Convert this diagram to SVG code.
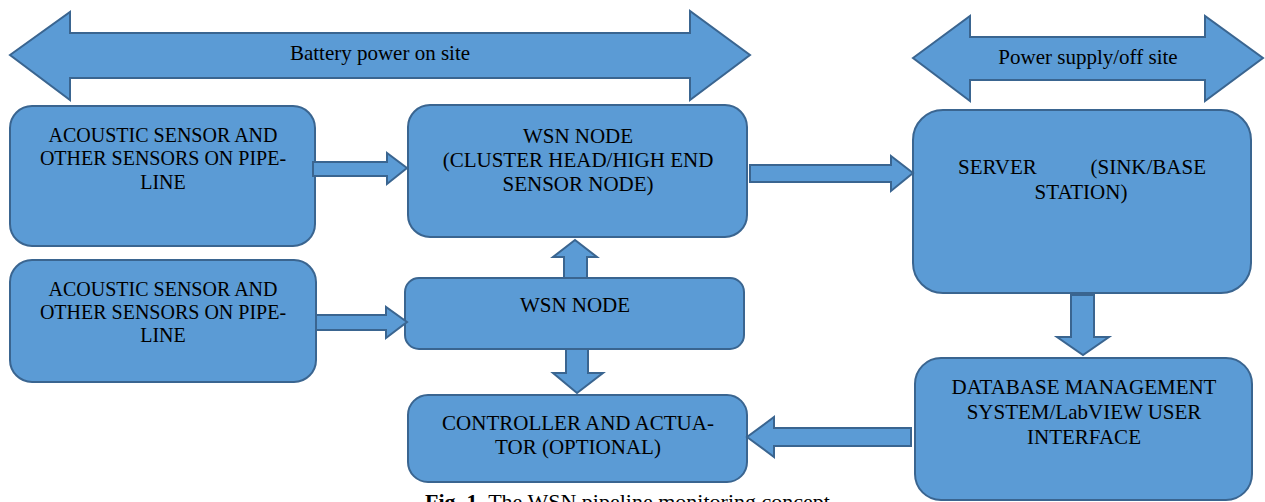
<svg xmlns="http://www.w3.org/2000/svg" width="1265" height="502" viewBox="0 0 1265 502">
<style>
.shape{fill:#5B9BD5;stroke:#3A6590;stroke-width:2;stroke-linejoin:miter}
.t{font-family:"Liberation Serif","Times New Roman",serif;font-size:21px;fill:#000;text-anchor:middle}
.s{font-size:20px}
.st{text-anchor:start}
.en{text-anchor:end}
.lbl{font-family:"Liberation Serif","Times New Roman",serif;font-size:21px;fill:#000;text-anchor:middle}
.cap{font-family:"Liberation Serif","Times New Roman",serif;font-size:22px;fill:#000}
</style>
<rect width="1265" height="502" fill="#fff"/>
<g id="battery-power">
<polygon class="shape" points="10,55 70,12 70,33 690,33 690,11 750,55 690,100 690,78 70,78 70,100"/>
<text class="lbl" x="380" y="60">Battery power on site</text>
</g>
<g id="power-supply">
<polygon class="shape" points="913,58 970,16 970,37 1205,37 1205,16 1263,58 1205,101 1205,80 970,80 970,101"/>
<text class="lbl" x="1088" y="64">Power supply/off site</text>
</g>
<g id="sensor1">
<rect class="shape" x="10" y="106" width="305" height="140" rx="22"/>
<text class="t s" x="163" y="142">ACOUSTIC SENSOR AND</text>
<text class="t s" x="163" y="165">OTHER SENSORS ON PIPE-</text>
<text class="t s" x="163" y="189">LINE</text>
</g>
<g id="sensor2">
<rect class="shape" x="10" y="260" width="306" height="122" rx="22"/>
<text class="t s" x="163" y="296">ACOUSTIC SENSOR AND</text>
<text class="t s" x="163" y="319">OTHER SENSORS ON PIPE-</text>
<text class="t s" x="163" y="342">LINE</text>
</g>
<g id="cluster-head">
<rect class="shape" x="408" y="105" width="339" height="132" rx="22"/>
<text class="t" x="578" y="143">WSN NODE</text>
<text class="t" x="578" y="167">(CLUSTER HEAD/HIGH END</text>
<text class="t" x="578" y="191">SENSOR NODE)</text>
</g>
<g id="wsn-node">
<rect class="shape" x="405" y="278" width="339" height="71" rx="14"/>
<text class="t" x="575" y="312">WSN NODE</text>
</g>
<g id="controller">
<rect class="shape" x="408" y="395" width="339" height="87" rx="20"/>
<text class="t" x="578" y="430">CONTROLLER AND ACTUA-</text>
<text class="t" x="578" y="454">TOR (OPTIONAL)</text>
</g>
<g id="server">
<rect class="shape" x="913" y="110" width="338" height="183" rx="30"/>
<text class="t st" x="958" y="174">SERVER</text>
<text class="t en" x="1206" y="174">(SINK/BASE</text>
<text class="t" x="1081" y="199">STATION)</text>
</g>
<g id="database">
<rect class="shape" x="915" y="358" width="337" height="142" rx="26"/>
<text class="t" x="1084" y="394">DATABASE MANAGEMENT</text>
<text class="t" x="1084" y="419">SYSTEM/LabVIEW USER</text>
<text class="t" x="1084" y="444">INTERFACE</text>
</g>
<g id="connectors">
<polygon class="shape" points="313,162 387,162 387,153 407,168 387,184 387,176 313,176"/>
<polygon class="shape" points="316,315 386,315 386,307 407,322 386,338 386,330 316,330"/>
<polygon class="shape" points="750,165 891,165 891,156 913,173 891,191 891,182 750,182"/>
<polygon class="shape" points="564,278 564,257 553,257 575,240 597,257 587,257 587,278"/>
<polygon class="shape" points="566,349 566,373 553,373 577,393 603,373 588,373 588,349"/>
<polygon class="shape" points="1071,295 1071,337 1057,337 1083,355 1109,337 1094,337 1094,295"/>
<polygon class="shape" points="911,428 774,428 774,417 747,437 774,457 774,446 911,446"/>
</g>
<text class="cap" x="425" y="509"><tspan font-weight="bold">Fig. 1.</tspan> The WSN pipeline monitoring concept</text>
</svg>
